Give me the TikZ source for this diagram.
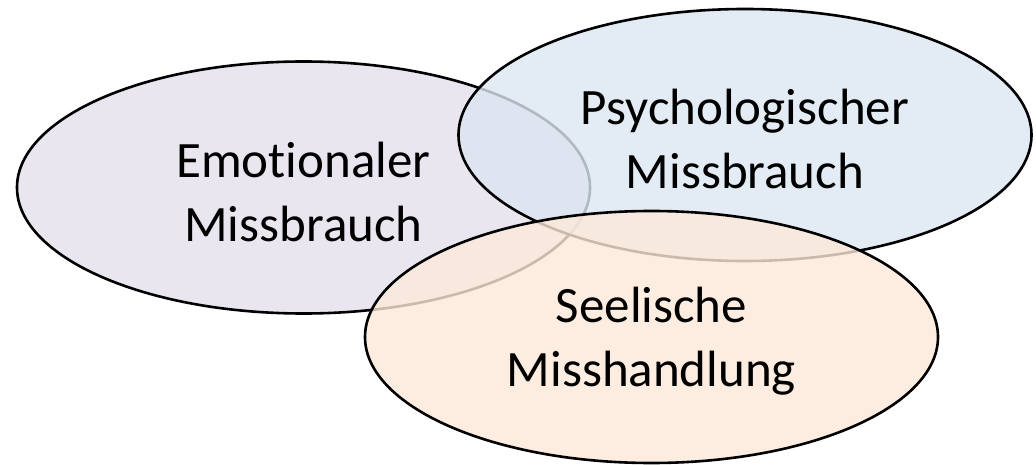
\documentclass[tikz,border=0pt]{standalone}
\usepackage{fontspec}
\setmainfont{Carlito}[Ligatures=NoCommon]
\usepackage{tikz}
\usetikzlibrary{shapes.geometric, positioning}
\definecolor{lila}{HTML}{E5E0EC}
\definecolor{hellblau}{HTML}{DCE6F2}
\definecolor{pfirsich}{HTML}{FDE9D9}
\tikzset {
    x=1pt,
    y=1pt,
    every blob/.style={ellipse, draw=black, line width=2.6pt, inner sep=0pt,
        minimum width=573pt, minimum height=252pt,
        fill opacity=0.8, draw opacity=1, text opacity=1, align=center,
        font=\fontsize{51}{64}\selectfont}
}

\begin{document}
\begin{tikzpicture}
                        \useasboundingbox (0,0) rectangle (1036,464);

                        \node[every blob, fill=lila] (emo) at (303.5,276.5) {\rule{0pt}{44pt}Emotionaler\\Missbrauch};
                        \node[every blob, fill=hellblau] (psy) at (745,329) {\rule{0pt}{44pt}Psychologischer\\Missbrauch};
                        \node[every blob, fill=pfirsich] (see) at (651.5,127) {\rule{0pt}{44pt}Seelische\\Misshandlung};

                    \end{tikzpicture}
\end{document}
